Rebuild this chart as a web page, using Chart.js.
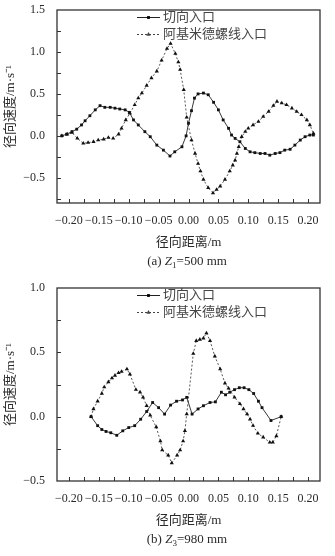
<!DOCTYPE html>
<html lang="zh">
<head>
<meta charset="UTF-8">
<title>径向速度分布</title>
<style>
    body {
        margin: 0;
        background: #fff;
    }

    .panel {
        position: absolute;
        left: 0;
        width: 335px;
        height: 278px;
    }

    #panelA { top: 0; }
    #panelB { top: 278px; }
</style>
</head>
<body>
<div class="panel" id="panelA"><canvas id="chartA"></canvas></div>
<div class="panel" id="panelB"><canvas id="chartB"></canvas></div>

<script src="https://cdn.jsdelivr.net/npm/chart.js"></script>
<script>
    const seriesNames = ['切向入口', '阿基米德螺线入口'];

    // (a) Z1 = 500 mm
    const aTangX = [-0.212, -0.204, -0.195, -0.187, -0.179, -0.173, -0.165, -0.156, -0.148, -0.140,
        -0.131, -0.123, -0.115, -0.106, -0.099, -0.092, -0.084, -0.073, -0.064, -0.053,
        -0.042, -0.031, -0.023, -0.011, -0.004, 0.000, 0.005, 0.010, 0.016, 0.025,
        0.033, 0.042, 0.050, 0.058, 0.067, 0.072, 0.078, 0.086, 0.095, 0.103,
        0.111, 0.120, 0.128, 0.136, 0.145, 0.153, 0.161, 0.170, 0.178, 0.187,
        0.195, 0.203, 0.209];
    const aTangY = [0.00, 0.02, 0.05, 0.08, 0.13, 0.18, 0.24, 0.31, 0.36, 0.34,
        0.34, 0.33, 0.32, 0.31, 0.28, 0.19, 0.13, 0.05, -0.01, -0.11,
        -0.17, -0.24, -0.19, -0.13, 0.00, 0.15, 0.30, 0.45, 0.50, 0.51,
        0.49, 0.40, 0.31, 0.19, 0.09, 0.01, -0.03, -0.07, -0.15, -0.19,
        -0.20, -0.21, -0.21, -0.23, -0.21, -0.20, -0.17, -0.16, -0.11, -0.05,
        -0.01, 0.01, 0.01];
    const aArchX = [-0.212, -0.203, -0.195, -0.186, -0.176, -0.168, -0.159, -0.151, -0.142, -0.134,
        -0.126, -0.117, -0.112, -0.105, -0.098, -0.090, -0.084, -0.078, -0.070, -0.062,
        -0.053, -0.045, -0.036, -0.030, -0.022, -0.017, -0.014, -0.008, -0.003, 0.005,
        0.011, 0.016, 0.020, 0.025, 0.033, 0.041, 0.047, 0.053, 0.061, 0.069,
        0.074, 0.078, 0.081, 0.084, 0.089, 0.095, 0.100, 0.108, 0.117, 0.125,
        0.134, 0.142, 0.148, 0.156, 0.164, 0.173, 0.181, 0.189, 0.198, 0.203,
        0.209];
    const aArchY = [0.00, 0.02, 0.04, -0.03, -0.09, -0.08, -0.07, -0.05, -0.04, -0.02,
        -0.03, 0.02, 0.09, 0.19, 0.27, 0.37, 0.45, 0.51, 0.60, 0.69,
        0.77, 0.90, 1.04, 1.10, 0.98, 0.88, 0.79, 0.55, 0.22, -0.05,
        -0.21, -0.33, -0.42, -0.52, -0.62, -0.68, -0.64, -0.60, -0.52, -0.42,
        -0.35, -0.29, -0.21, -0.13, -0.01, 0.05, 0.09, 0.13, 0.17, 0.23,
        0.29, 0.36, 0.41, 0.39, 0.37, 0.33, 0.29, 0.25, 0.19, 0.13,
        0.03];

    // (b) Z3 = 980 mm
    const bTangX = [-0.163, -0.152, -0.145, -0.138, -0.130, -0.120, -0.110, -0.100, -0.090, -0.080,
        -0.070, -0.060, -0.050, -0.040, -0.030, -0.020, -0.010, -0.003, 0.006, 0.016,
        0.025, 0.036, 0.045, 0.055, 0.062, 0.069, 0.077, 0.085, 0.093, 0.101,
        0.109, 0.117, 0.123, 0.138, 0.155];
    const bTangY = [0.00, -0.07, -0.10, -0.115, -0.125, -0.145, -0.11, -0.085, -0.07, -0.02,
        0.04, 0.11, 0.07, 0.02, 0.09, 0.12, 0.13, 0.15, 0.02, 0.06,
        0.085, 0.11, 0.115, 0.19, 0.17, 0.19, 0.21, 0.225, 0.225, 0.21,
        0.18, 0.12, 0.07, -0.03, 0.00];
    const bArchX = [-0.163, -0.159, -0.152, -0.145, -0.141, -0.134, -0.128, -0.123, -0.117, -0.112,
        -0.103, -0.098, -0.088, -0.081, -0.076, -0.070, -0.064, -0.054, -0.047, -0.044,
        -0.034, -0.028, -0.019, -0.014, -0.009, -0.006, -0.003, 0.008, 0.013, 0.019,
        0.025, 0.030, 0.036, 0.044, 0.053, 0.061, 0.067, 0.077, 0.086, 0.092,
        0.098, 0.103, 0.108, 0.116, 0.125, 0.136, 0.141, 0.147, 0.155];
    const bArchY = [0.00, 0.06, 0.12, 0.18, 0.23, 0.27, 0.30, 0.32, 0.34, 0.35,
        0.37, 0.33, 0.21, 0.19, 0.15, 0.085, 0.01, -0.08, -0.19, -0.26,
        -0.30, -0.36, -0.30, -0.26, -0.19, -0.11, 0.02, 0.49, 0.59, 0.60,
        0.61, 0.65, 0.59, 0.47, 0.37, 0.26, 0.22, 0.15, 0.10, 0.06,
        0.02, -0.02, -0.07, -0.13, -0.16, -0.20, -0.20, -0.15, 0.00];

    const xTickValues = [-0.20, -0.15, -0.10, -0.05, 0.00, 0.05, 0.10, 0.15, 0.20];
    const yTickValuesA = [-0.5, 0.0, 0.5, 1.0, 1.5];
    const yTickValuesB = [-0.5, 0.0, 0.5, 1.0];

    const SERIF = "'Liberation Serif', 'Noto Sans CJK SC', serif";
    const INK = '#2a2a2a';

    function fmt(v, d) {
        const s = Math.abs(v).toFixed(d);
        return (v < -1e-9 ? '\u2212' : '') + s;
    }

    function toPoints(xs, ys) {
        return xs.map((x, i) => ({ x: x, y: ys[i] }));
    }

    // frame, inward ticks, legend and caption
    const decor = {
        id: 'decor',
        afterDatasetsDraw(chart, args, opts) {
            const { ctx, chartArea: a, scales: { x, y } } = chart;
            ctx.save();

            ctx.strokeStyle = '#333';
            ctx.lineWidth = 1;
            ctx.beginPath();
            for (let k = 0; k <= 16; k++) {
                const px = Math.round(x.getPixelForValue(-0.2 + k * 0.025)) + 0.5;
                ctx.moveTo(px, a.bottom);
                ctx.lineTo(px, a.bottom - 4);
            }
            for (let v = opts.yFrom; v < y.max - 1e-6; v += 0.25) {
                if (v <= y.min + 1e-6) continue;
                const py = Math.round(y.getPixelForValue(v)) + 0.5;
                ctx.moveTo(a.left, py);
                ctx.lineTo(a.left + 4, py);
            }
            ctx.stroke();

            ctx.lineWidth = 1.3;
            ctx.strokeRect(a.left, a.top, a.right - a.left, a.bottom - a.top);

            // legend
            const rows = [17.5, 34.5];
            chart.data.datasets.forEach((ds, i) => {
                const ly = rows[i];
                ctx.strokeStyle = ds.borderColor;
                ctx.lineWidth = 1;
                ctx.setLineDash(ds.borderDash || []);
                ctx.beginPath();
                ctx.moveTo(137, ly);
                ctx.lineTo(160, ly);
                ctx.stroke();
                ctx.setLineDash([]);
                Chart.helpers.drawPoint(ctx, {
                    pointStyle: ds.pointStyle,
                    radius: ds.pointRadius,
                    borderWidth: 0,
                    rotation: 0
                }, 148.5, ly);
                ctx.fillStyle = '#444';
                ctx.font = '13px ' + SERIF;
                ctx.textBaseline = 'middle';
                ctx.textAlign = 'left';
                ctx.fillText(ds.label, 163, ly);
            });

            // caption "(a) Z1=500 mm"
            const cap = opts.caption;
            const cy = 262;
            const normal = '13px ' + SERIF;
            const italic = 'italic 13px ' + SERIF;
            const small = '9px ' + SERIF;
            ctx.fillStyle = INK;
            ctx.textBaseline = 'middle';
            ctx.textAlign = 'left';
            ctx.font = normal; const w1 = ctx.measureText(cap.tag).width;
            ctx.font = italic; const w2 = ctx.measureText('Z').width;
            ctx.font = small; const w3 = ctx.measureText(cap.sub).width;
            ctx.font = normal; const w4 = ctx.measureText(cap.rest).width;
            let cx = 187 - (w1 + w2 + w3 + w4) / 2;
            ctx.font = normal; ctx.fillText(cap.tag, cx, cy); cx += w1;
            ctx.font = italic; ctx.fillText('Z', cx, cy); cx += w2;
            ctx.font = small; ctx.fillText(cap.sub, cx, cy + 4); cx += w3;
            ctx.font = normal; ctx.fillText(cap.rest, cx, cy);

            ctx.restore();
        }
    };

    function makeChart(canvasId, tang, arch, yMin, yMax, yTicks, yFrom, caption) {
        const ctx = document.getElementById(canvasId).getContext('2d');
        return new Chart(ctx, {
            type: 'line',
            data: {
                datasets: [{
                    label: seriesNames[0],
                    data: tang,
                    borderColor: '#222',
                    backgroundColor: '#111',
                    borderWidth: 0.9,
                    pointStyle: 'rect',
                    pointRadius: 2,
                    pointBorderWidth: 0,
                    tension: 0
                }, {
                    label: seriesNames[1],
                    data: arch,
                    borderColor: '#444',
                    backgroundColor: '#111',
                    borderWidth: 0.9,
                    borderDash: [2, 2],
                    pointStyle: 'triangle',
                    pointRadius: 2.4,
                    pointBorderWidth: 0,
                    tension: 0
                }]
            },
            options: {
                responsive: true,
                maintainAspectRatio: false,
                animation: false,
                events: [],
                layout: { padding: { left: 0, right: 15, top: 10, bottom: 0 } },
                plugins: {
                    legend: { display: false },
                    tooltip: { enabled: false },
                    decor: { caption: caption, yFrom: yFrom }
                },
                scales: {
                    x: {
                        type: 'linear',
                        min: -0.22,
                        max: 0.22,
                        grid: { display: false, drawTicks: false },
                        border: { display: false },
                        afterBuildTicks: scale => { scale.ticks = xTickValues.map(v => ({ value: v })); },
                        afterFit: scale => {
                            scale.height = 75;
                            scale.paddingLeft = 0;
                            scale.paddingRight = 0;
                        },
                        ticks: {
                            autoSkip: false,
                            maxRotation: 0,
                            padding: 11,
                            color: INK,
                            font: { family: SERIF, size: 12 },
                            callback: v => fmt(v, 2)
                        },
                        title: {
                            display: true,
                            text: '径向距离/m',
                            color: INK,
                            font: { family: SERIF, size: 13 },
                            padding: { top: 0, bottom: 28 }
                        }
                    },
                    y: {
                        type: 'linear',
                        min: yMin,
                        max: yMax,
                        grid: { display: false, drawTicks: false },
                        border: { display: false },
                        afterBuildTicks: scale => { scale.ticks = yTicks.map(v => ({ value: v })); },
                        // fixed width, and no extra room for the end labels
                        afterFit: scale => {
                            scale.width = 57;
                            scale.paddingTop = 0;
                            scale.paddingBottom = 0;
                        },
                        ticks: {
                            padding: 12,
                            color: INK,
                            font: { family: SERIF, size: 12 },
                            callback: v => fmt(v, 1)
                        },
                        title: {
                            display: true,
                            text: '径向速度/m·s⁻¹',
                            color: INK,
                            font: { family: SERIF, size: 13 },
                            padding: { top: 3, bottom: 0 }
                        }
                    }
                }
            },
            plugins: [decor]
        });
    }

    makeChart('chartA', toPoints(aTangX, aTangY), toPoints(aArchX, aArchY),
        -0.8, 1.5, yTickValuesA, -0.75, { tag: '(a) ', sub: '1', rest: '=500 mm' });
    makeChart('chartB', toPoints(bTangX, bTangY), toPoints(bArchX, bArchY),
        -0.5, 1.0, yTickValuesB, -0.5, { tag: '(b) ', sub: '3', rest: '=980 mm' });
</script>
</body>
</html>
